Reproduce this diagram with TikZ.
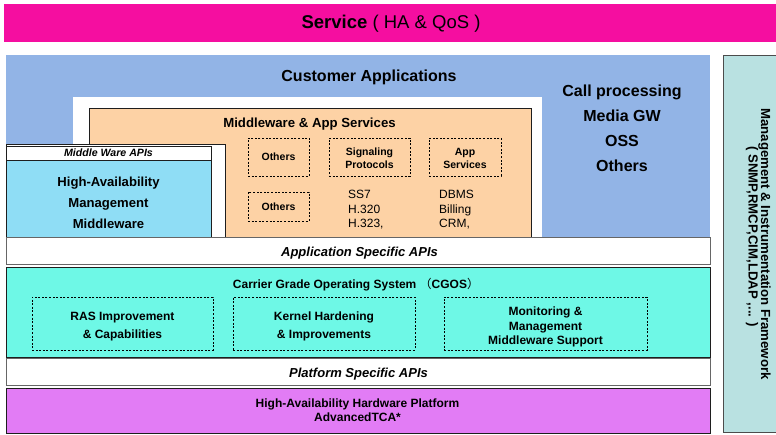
\documentclass[tikz,border=0pt]{standalone}
\usepackage{fontspec}
\setmainfont{Liberation Sans}
\newfontfamily\cjk{Noto Sans CJK SC}
\usetikzlibrary{fit}

\definecolor{servicepink}{RGB}{245,14,160}
\definecolor{custblue}{RGB}{146,180,230}
\definecolor{mworange}{RGB}{253,210,165}
\definecolor{hacyan}{RGB}{143,221,245}
\definecolor{cgosaqua}{RGB}{110,248,230}
\definecolor{hwviolet}{RGB}{226,124,245}
\definecolor{mgmtteal}{RGB}{185,225,225}
\definecolor{edge}{RGB}{30,30,30}

\newcommand{\fs}[2]{\fontsize{#1}{#2}\selectfont}

\begin{document}
\begin{tikzpicture}[x=1pt,y=-1pt,
  plain/.style={inner sep=0pt, outer sep=0pt},
  layer/.style={plain, draw=edge, line width=0.9pt},
  apibar/.style={plain, fill=white, draw=black!60, line width=1pt},
  dashbox/.style={plain, draw=black, line width=0.7pt, dash pattern=on 2pt off 1.6pt},
  lbl/.style={inner sep=0pt, anchor=base, font=\bfseries\fs{12}{14}},
  ilbl/.style={inner sep=0pt, anchor=base, font=\bfseries\itshape\fs{13}{15}}]

\useasboundingbox (0,0) rectangle (776,434);
\fill[white] (0,0) rectangle (776,434);

% service bar across the top
\node[plain, fill=servicepink, fit={(4,4) (776,42)}] (service) {};
\node[inner sep=0pt, anchor=base, font=\fs{18.5}{20}] (servicetxt) at (391,28.5)
  {\textbf{Service} ( HA \& QoS )};

% customer applications area
\node[plain, fill=custblue, fit={(6,55) (710,237)}] (cust) {};
\node[plain, fill=white, fit={(73,97) (542,237)}] (custgap) {};
\node[lbl, font=\bfseries\fs{16}{18}] (custtxt) at (369,81.5) {Customer Applications};
\node[lbl, font=\bfseries\fs{16}{18}] (callp) at (622,96.7) {Call processing};
\node[lbl, font=\bfseries\fs{16}{18}] (mediagw) at (622,121.7) {Media GW};
\node[lbl, font=\bfseries\fs{16}{18}] (oss) at (622,146.2) {OSS};
\node[lbl, font=\bfseries\fs{16}{18}] (othersapp) at (622,171.7) {Others};

% middleware and application services
\node[layer, fill=mworange, fit={(89,108) (531,237)}] (mw) {};
\node[lbl, font=\bfseries\fs{13.2}{15}] (mwtxt) at (309.5,127.3) {Middleware \& App Services};

\node[dashbox, fit={(248,138) (309,176)}] (oth1) {};
\node[lbl, font=\bfseries\fs{10.5}{12}] at (oth1.center |- 0,160.7) {Others};
\node[dashbox, fit={(329,138) (410,176)}] (sig) {};
\node[lbl, font=\bfseries\fs{10.5}{12}] at (sig.center |- 0,155.3) {Signaling};
\node[lbl, font=\bfseries\fs{10.5}{12}] at (sig.center |- 0,168.2) {Protocols};
\node[dashbox, fit={(429,138) (501,176)}] (appsvc) {};
\node[lbl, font=\bfseries\fs{10.5}{12}] at (appsvc.center |- 0,155.3) {App};
\node[lbl, font=\bfseries\fs{10.5}{12}] at (appsvc.center |- 0,168.2) {Services};
\node[dashbox, fit={(248,192) (309,221)}] (oth2) {};
\node[lbl, font=\bfseries\fs{10.5}{12}] at (oth2.center |- 0,210) {Others};

\node[inner sep=0pt, anchor=base west, font=\fs{12}{14}] (ss7) at (348,198.3) {SS7};
\node[inner sep=0pt, anchor=base west, font=\fs{12}{14}] (h320) at (348,213) {H.320};
\node[inner sep=0pt, anchor=base west, font=\fs{12}{14}] (h323) at (348,227) {H.323,};
\node[inner sep=0pt, anchor=base west, font=\fs{12}{14}] (dbms) at (439,198.3) {DBMS};
\node[inner sep=0pt, anchor=base west, font=\fs{12}{14}] (billing) at (439,213) {Billing};
\node[inner sep=0pt, anchor=base west, font=\fs{12}{14}] (crm) at (439,227) {CRM,};

% high-availability management middleware
\node[layer, fill=white, fit={(6,144) (225,237)}] (hawrap) {};
\node[layer, fill=white, fit={(6,146) (211,160)}] (mwapi) {};
\node[lbl, font=\bfseries\itshape\fs{10.6}{12}] at (mwapi.center |- 0,156.7) {Middle Ware APIs};
\node[layer, fill=hacyan, fit={(6,160) (211,237)}] (ha) {};
\node[lbl, font=\bfseries\fs{13.1}{15}] at (ha.center |- 0,186.7) {High-Availability};
\node[lbl, font=\bfseries\fs{13.1}{15}] at (ha.center |- 0,207.5) {Management};
\node[lbl, font=\bfseries\fs{13.1}{15}] at (ha.center |- 0,228.2) {Middleware};

% application specific APIs
\node[apibar, fit={(6,237) (710,264)}] (appapi) {};
\node[ilbl] at (359.5,256.7) {Application Specific APIs};

% carrier grade operating system
\node[layer, fill=cgosaqua, fit={(6,267) (710,357)}] (cgos) {};
\node[lbl] (cgostxt) at (356,288)
  {Carrier Grade Operating System {\cjk\mdseries （}CGOS{\cjk\mdseries ）}};
\node[dashbox, fit={(32,297) (213,350)}] (ras) {};
\node[lbl] at (ras.center |- 0,320.7) {RAS Improvement};
\node[lbl] at (ras.center |- 0,338.2) {\& Capabilities};
\node[dashbox, fit={(233,297) (415,350)}] (kernel) {};
\node[lbl] at (kernel.center |- 0,320.7) {Kernel Hardening};
\node[lbl] at (kernel.center |- 0,338.2) {\& Improvements};
\node[dashbox, fit={(444,297) (647,350)}] (monit) {};
\node[lbl] at (monit.center |- 0,315.8) {Monitoring \&};
\node[lbl] at (monit.center |- 0,330.2) {Management};
\node[lbl] at (monit.center |- 0,344.6) {Middleware Support};

% platform specific APIs
\node[apibar, fit={(6,358) (710,385)}] (platapi) {};
\node[ilbl] at (358.5,377.3) {Platform Specific APIs};

% hardware platform
\node[layer, fill=hwviolet, fit={(6,388) (710,433)}] (hw) {};
\node[lbl] at (357.5,407) {High-Availability Hardware Platform};
\node[lbl] at (357.5,421.3) {AdvancedTCA*};

% management and instrumentation framework
\node[plain, fill=mgmtteal, draw=black!70, line width=0.9pt, fit={(723,55) (776.5,432)}] (mgmt) {};
\node[lbl, rotate=-90, font=\bfseries\fs{13.2}{15}] (mgmt1) at (761,244) {Management \& Instrumentation Framework};
\node[lbl, rotate=-90, font=\bfseries\fs{13.2}{15}] (mgmt2) at (748.5,236.5) {( SNMP,RMCP,CIM,LDAP ,... )};

\end{tikzpicture}
\end{document}
